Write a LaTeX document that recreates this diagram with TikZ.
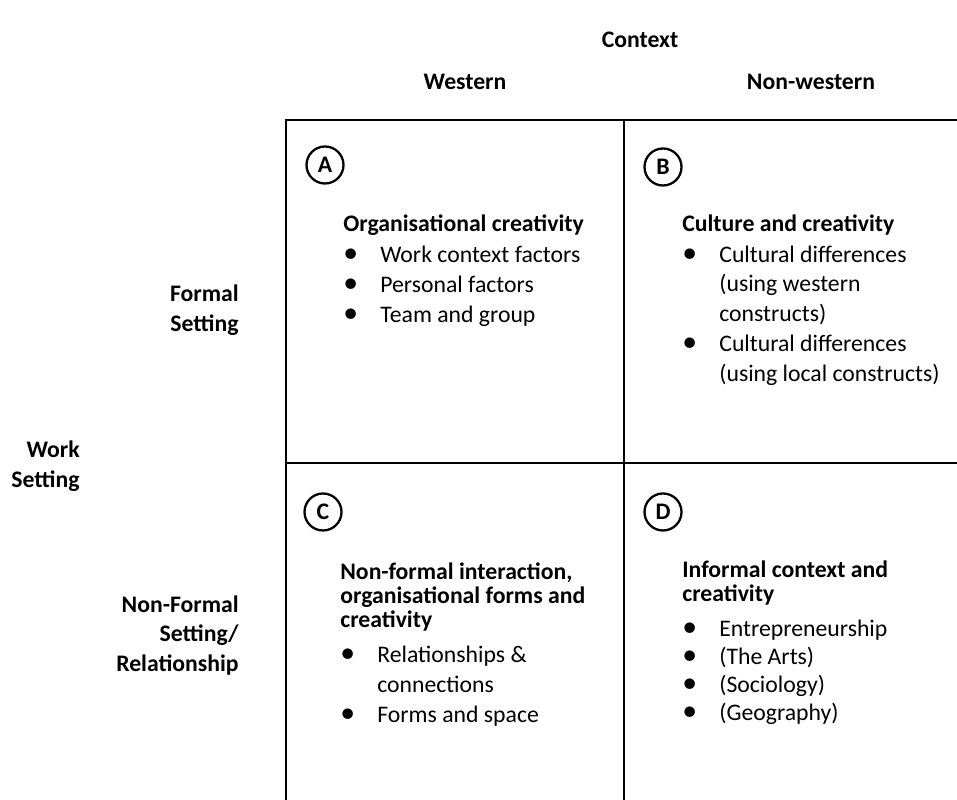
\documentclass[tikz,border=0pt]{standalone}
\usepackage{fontspec}
\setmainfont{Carlito}

\tikzset{
  hdr/.style={font=\bfseries, anchor=base, inner sep=0pt},
  side/.style={font=\bfseries, anchor=base east, inner sep=0pt},
  ttl/.style={font=\bfseries, anchor=base west, inner sep=0pt},
  txt/.style={anchor=base west, inner sep=0pt},
  tag/.style={draw, circle, line width=1.3pt, minimum size=0.74cm, inner sep=0pt, font=\bfseries}
}
\newcommand{\itm}[1]{\makebox[0.74cm][l]{\scalebox{1.25}{\textbullet}}#1}

\begin{document}
\fontsize{13.5}{16}\selectfont
\begin{tikzpicture}
\useasboundingbox (0,0) rectangle (19.14,16);

% the four cells, open at the right and at the bottom
\draw[line width=1.1pt] (5.72,0) -- (5.72,13.6) -- (19.14,13.6);
\draw[line width=1.1pt] (12.48,0) -- (12.48,13.6);
\draw[line width=1.1pt] (5.72,6.74) -- (19.14,6.74);

% column heads
\node[hdr] (ctx) at (12.8,15.05) {Context};
\node[hdr] (west) at (9.3,14.21) {Western};
\node[hdr] (nwest) at (16.22,14.21) {Non-western};

% row heads
\node[side] (frm1) at (4.78,9.96) {Formal};
\node[side] (frm2) at (4.78,9.36) {Setting};
\node[side] (wrk1) at (1.6,6.84) {Work};
\node[side] (wrk2) at (1.6,6.24) {Setting};
\node[side] (nfr1) at (4.78,3.74) {Non-Formal};
\node[side] (nfr2) at (4.78,3.16) {Setting/};
\node[side] (nfr3) at (4.78,2.56) {Relationship};

% cell A
\node[tag] (tagA) at (6.5,12.7) {A};
\node[ttl] (a0) at (6.86,11.36) {Organisational creativity};
\node[txt] (a1) at (6.86,10.74) {\itm{Work context factors}};
\node[txt] (a2) at (6.86,10.14) {\itm{Personal factors}};
\node[txt] (a3) at (6.86,9.54) {\itm{Team and group}};

% cell B
\node[tag] (tagB) at (13.26,12.66) {B};
\node[ttl] (b0) at (13.64,11.36) {Culture and creativity};
\node[txt] (b1) at (13.64,10.74) {\itm{Cultural differences}};
\node[txt] (b2) at (14.38,10.16) {(using western};
\node[txt] (b3) at (14.38,9.56) {constructs)};
\node[txt] (b4) at (13.64,8.96) {\itm{Cultural differences}};
\node[txt] (b5) at (14.38,8.36) {(using local constructs)};

% cell C
\node[tag] (tagC) at (6.46,5.76) {C};
\node[ttl] (c0) at (6.8,4.4) {Non-formal interaction,};
\node[ttl] (c1) at (6.8,3.92) {organisational forms and};
\node[ttl] (c2) at (6.8,3.44) {creativity};
\node[txt] (c3) at (6.8,2.74) {\itm{Relationships \&}};
\node[txt] (c4) at (7.54,2.14) {connections};
\node[txt] (c5) at (6.8,1.54) {\itm{Forms and space}};

% cell D
\node[tag] (tagD) at (13.26,5.76) {D};
\node[ttl] (d0) at (13.64,4.44) {Informal context and};
\node[ttl] (d1) at (13.64,3.96) {creativity};
\node[txt] (d2) at (13.64,3.26) {\itm{Entrepreneurship}};
\node[txt] (d3) at (13.64,2.7) {\itm{(The Arts)}};
\node[txt] (d4) at (13.64,2.14) {\itm{(Sociology)}};
\node[txt] (d5) at (13.64,1.58) {\itm{(Geography)}};
\end{tikzpicture}
\end{document}
